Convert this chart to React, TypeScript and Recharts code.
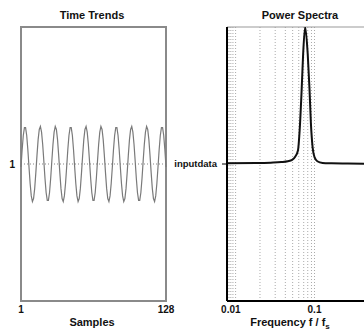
import React from 'react';
import { LineChart, Line, XAxis, YAxis, ReferenceLine, ReferenceArea } from 'recharts';

// channel / axis labels
const channelNames = ['1'];
const spectrumNames = ['inputdata'];
const sampleTicks = [1, 128];
const freqTicks = [0.01, 0.1];
const freqGrid = [0.0095, 0.01, 0.0106, 0.0114, 0.0223, 0.0339, 0.0448, 0.0548, 0.0648, 0.0743, 0.083, 0.092, 0.1];

// time trend, 128 samples
const timeValues = [
  -0.08, 0.38, 0.76, 0.97, 0.97, 0.76, 0.38, -0.08, -0.52, -0.85, -1.0, -0.92, -0.65, -0.23, 0.23, 0.65,
  0.92, 1.0, 0.85, 0.52, 0.08, -0.38, -0.76, -0.97, -0.97, -0.76, -0.38, 0.08, 0.52, 0.85, 1.0, 0.92,
  0.65, 0.23, -0.23, -0.65, -0.92, -1.0, -0.85, -0.52,
  -0.08, 0.38, 0.76, 0.97, 0.97, 0.76, 0.38, -0.08, -0.52, -0.85, -1.0, -0.92, -0.65, -0.23, 0.23, 0.65,
  0.92, 1.0, 0.85, 0.52, 0.08, -0.38, -0.76, -0.97, -0.97, -0.76, -0.38, 0.08, 0.52, 0.85, 1.0, 0.92,
  0.65, 0.23, -0.23, -0.65, -0.92, -1.0, -0.85, -0.52,
  -0.08, 0.38, 0.76, 0.97, 0.97, 0.76, 0.38, -0.08, -0.52, -0.85, -1.0, -0.92, -0.65, -0.23, 0.23, 0.65,
  0.92, 1.0, 0.85, 0.52, 0.08, -0.38, -0.76, -0.97, -0.97, -0.76, -0.38, 0.08, 0.52, 0.85, 1.0, 0.92,
  0.65, 0.23, -0.23, -0.65, -0.92, -1.0, -0.85, -0.52,
  -0.08, 0.38, 0.76, 0.97, 0.97, 0.76, 0.38, -0.08,
];

// power spectrum (normalised, peak clipped at the top)
const specFreq = [0.009, 0.02, 0.03, 0.04, 0.048, 0.054, 0.059, 0.0635, 0.0665, 0.0703, 0.0731, 0.0773, 0.083, 0.0871, 0.0905, 0.095, 0.1, 0.108, 0.125, 0.16, 0.25, 0.5];
const specPower = [0.005, 0.007, 0.01, 0.014, 0.02, 0.03, 0.055, 0.1, 0.25, 0.55, 0.8, 1.0, 0.8, 0.55, 0.3, 0.12, 0.05, 0.02, 0.008, 0.005, 0.003, 0.0];

const timeData = timeValues.map((v, i) => ({ n: i + 1, v }));
const specData = specFreq.map((f, i) => ({ f, p: specPower[i] }));

const tickStyle = { fontSize: 10, fontWeight: 'bold', fill: '#111' };
const titleStyle: React.CSSProperties = {
  position: 'absolute',
  fontSize: 11,
  fontWeight: 'bold',
  lineHeight: '14px',
  textAlign: 'center',
  color: '#111',
};

const App = () => {
  return (
    <div
      style={{
        position: 'absolute',
        left: 0,
        top: 0,
        width: 364,
        height: 334,
        overflow: 'hidden',
        background: '#fff',
        fontFamily: '"Liberation Sans", Arial, sans-serif',
      }}
    >
      <div style={{ ...titleStyle, left: 0, top: 8, width: 184 }}>Time Trends</div>
      <div style={{ ...titleStyle, left: 240, top: 8, width: 120 }}>Power Spectra</div>
      <div style={{ ...titleStyle, left: 0, top: 315, width: 184 }}>Samples</div>
      <div style={{ ...titleStyle, left: 230, top: 315, width: 120 }}>
        Frequency f / f<sub style={{ fontSize: 8 }}>s</sub>
      </div>

      <div style={{ position: 'absolute', left: 0, top: 0 }}>
        <LineChart width={182} height={334} data={timeData} margin={{ top: 27, right: 16, bottom: 0, left: 0 }}>
          <XAxis
            dataKey="n"
            type="number"
            domain={[1, 128]}
            ticks={sampleTicks}
            interval={0}
            height={33}
            axisLine={false}
            tickLine={false}
            tickSize={0}
            tickMargin={5}
            tick={tickStyle}
          />
          <YAxis
            type="number"
            domain={[-3.65, 3.65]}
            ticks={[0]}
            tickFormatter={() => channelNames[0]}
            width={21}
            axisLine={false}
            tickLine={false}
            tickSize={0}
            tickMargin={6}
            tick={tickStyle}
          />
          <ReferenceLine y={0} stroke="#888" strokeDasharray="1 2" />
          <Line
            dataKey="v"
            type="linear"
            stroke="#7a7a7a"
            strokeWidth={1.2}
            dot={false}
            isAnimationActive={false}
          />
          <ReferenceArea x1={1} x2={128} y1={-3.65} y2={3.65} fill="none" fillOpacity={0} stroke="#8a8a8a" strokeWidth={2} />
        </LineChart>
      </div>

      <div style={{ position: 'absolute', left: 170, top: 0 }}>
        <LineChart width={212} height={334} data={specData} margin={{ top: 27, right: 9, bottom: 0, left: 0 }}>
          <XAxis
            dataKey="f"
            type="number"
            scale="log"
            domain={[0.009, 0.5]}
            allowDataOverflow
            ticks={freqTicks}
            interval={0}
            tickFormatter={(v: number) => String(v)}
            height={33}
            axisLine={{ stroke: '#000', strokeWidth: 2 }}
            tickLine={false}
            tickSize={0}
            tickMargin={5}
            tick={tickStyle}
          />
          <YAxis
            type="number"
            domain={[-1, 1]}
            allowDataOverflow
            ticks={[0]}
            tickFormatter={() => spectrumNames[0]}
            width={57}
            axisLine={{ stroke: '#000', strokeWidth: 2 }}
            tickLine={{ stroke: '#000' }}
            tickSize={5}
            tickMargin={5}
            tick={{ ...tickStyle, fontSize: 9.5 }}
          />
          {freqGrid.map((f) => (
            <ReferenceLine key={f} x={f} stroke="#aaa" strokeDasharray="1 2" />
          ))}
          <ReferenceLine y={1} stroke="#999" />
          <Line
            dataKey="p"
            type="monotone"
            stroke="#111"
            strokeWidth={2}
            dot={false}
            isAnimationActive={false}
          />
        </LineChart>
      </div>
    </div>
  );
};

export default App;
